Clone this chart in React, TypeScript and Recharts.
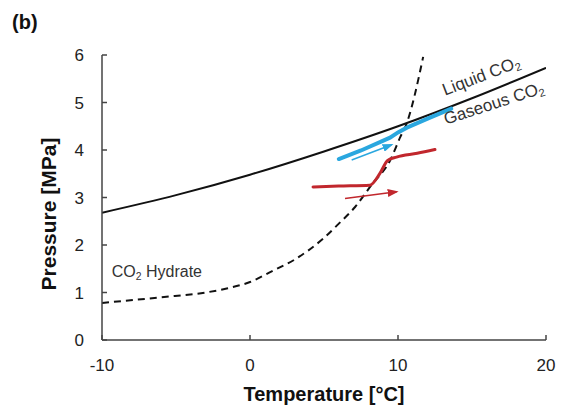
import React from 'react';
import { LineChart, Line, XAxis, YAxis, ReferenceDot } from 'recharts';

const X_TICKS = [-10, 0, 10, 20];
const Y_TICKS = [0, 1, 2, 3, 4, 5, 6];

// Liquid / gaseous CO2 boundary
const boundaryT = [-10, -5, 0, 5, 10, 15, 20];
const boundaryP = [2.68, 3.05, 3.48, 3.97, 4.5, 5.09, 5.73];

// CO2 hydrate equilibrium (dashed)
const hydrateT = [-10, -6, -3, -1.5, 0, 1.5, 3, 5, 6, 7.1, 8.2, 9.5, 10.15, 10.55, 11.7];
const hydrateP = [0.78, 0.9, 1.0, 1.09, 1.22, 1.45, 1.69, 2.15, 2.45, 2.8, 3.26, 3.8, 4.27, 4.53, 5.96];

// Blue measured path
const blueT = [6.0, 7.5, 9.46, 10.0, 10.6, 12.0, 13.6];
const blueP = [3.81, 3.99, 4.26, 4.37, 4.47, 4.66, 4.87];

const blueArrowT = [6.87, 9.57];
const blueArrowP = [3.79, 4.11];

// Red measured path
const redT = [4.26, 6.0, 8.1, 8.8, 9.3, 9.9, 11.3, 12.5];
const redP = [3.22, 3.24, 3.26, 3.52, 3.78, 3.85, 3.93, 4.01];

const redArrowT = [6.42, 9.91];
const redArrowP = [2.98, 3.12];

const toPts = (xs: number[], ys: number[]) => xs.map((x, i) => ({ x, y: ys[i] }));

const boundary = toPts(boundaryT, boundaryP);
const hydrate = toPts(hydrateT, hydrateP);
const blue = toPts(blueT, blueP);
const blueArrow = toPts(blueArrowT, blueArrowP);
const red = toPts(redT, redP);
const redArrow = toPts(redArrowT, redArrowP);

const FONT = '"Liberation Sans", Arial, Helvetica, sans-serif';
const AXIS = '#444';
const BLUE = '#2aa7df';
const RED = '#c1272d';

const XTick = (props: any) => {
  const { x, y, payload } = props;
  return (
    <g>
      <line x1={x} y1={y} x2={x} y2={y - 5} stroke={AXIS} strokeWidth={1.5} />
      <text x={x} y={y + 31} textAnchor="middle" fontSize={17} fill="#222" fontFamily={FONT}>
        {payload.value}
      </text>
    </g>
  );
};

const YTick = (props: any) => {
  const { x, y, payload } = props;
  return (
    <g>
      <line x1={x} y1={y} x2={x + 5} y2={y} stroke={AXIS} strokeWidth={1.5} />
      <text x={x - 18} y={y + 6} textAnchor="end" fontSize={17} fill="#222" fontFamily={FONT}>
        {payload.value}
      </text>
    </g>
  );
};

const co2Text = (cx: number, cy: number, angle: number, before: string, after: string, size: number) => (
  <text
    x={cx}
    y={cy}
    fontSize={size}
    fill="#333"
    fontFamily={FONT}
    transform={`rotate(${angle} ${cx} ${cy})`}
  >
    {before}CO
    <tspan fontSize={size * 0.65} dy={3}>2</tspan>
    <tspan dy={-3}>{after}</tspan>
  </text>
);

export default function App() {
  return (
    <div
      style={{
        position: 'absolute',
        left: 0,
        top: 0,
        width: 565,
        height: 410,
        background: '#fff',
        fontFamily: FONT,
      }}
    >
      <svg width={0} height={0} style={{ position: 'absolute' }}>
        <defs>
          <marker id="arrRed" markerUnits="userSpaceOnUse" markerWidth={11} markerHeight={8} refX={9} refY={4} orient="auto">
            <path d="M0,0 L11,4 L0,8 z" fill={RED} />
          </marker>
          <marker id="arrBlue" markerUnits="userSpaceOnUse" markerWidth={11} markerHeight={8} refX={9} refY={4} orient="auto">
            <path d="M0,0 L11,4 L0,8 z" fill={BLUE} />
          </marker>
        </defs>
      </svg>
      <LineChart width={565} height={410} margin={{ top: 55, right: 19, bottom: 0, left: 0 }}>
        <XAxis
          type="number"
          dataKey="x"
          domain={[-10, 20]}
          ticks={X_TICKS}
          height={70}
          tick={XTick}
          tickLine={false}
          tickSize={0}
          tickMargin={0}
          axisLine={{ stroke: AXIS, strokeWidth: 1.5 }}
          allowDataOverflow
        />
        <YAxis
          type="number"
          dataKey="y"
          domain={[0, 6]}
          ticks={Y_TICKS}
          width={102}
          tick={YTick}
          tickLine={false}
          tickSize={0}
          tickMargin={0}
          axisLine={{ stroke: AXIS, strokeWidth: 1.5 }}
          allowDataOverflow
        />
        <Line data={boundary} dataKey="y" type="monotone" stroke="#111" strokeWidth={2} dot={false} activeDot={false} isAnimationActive={false} />
        <Line data={hydrate} dataKey="y" type="monotone" stroke="#111" strokeWidth={2} strokeDasharray="7 5" dot={false} activeDot={false} isAnimationActive={false} />
        <Line data={blue} dataKey="y" type="linear" stroke={BLUE} strokeWidth={4} strokeLinecap="round" dot={false} activeDot={false} isAnimationActive={false} />
        <Line data={red} dataKey="y" type="monotone" stroke={RED} strokeWidth={3} strokeLinecap="round" dot={false} activeDot={false} isAnimationActive={false} />
        <Line data={blueArrow} dataKey="y" type="linear" stroke={BLUE} strokeWidth={1.5} markerEnd="url(#arrBlue)" dot={false} activeDot={false} isAnimationActive={false} />
        <Line data={redArrow} dataKey="y" type="linear" stroke={RED} strokeWidth={1.5} markerEnd="url(#arrRed)" dot={false} activeDot={false} isAnimationActive={false} />
        <ReferenceDot x={13.18} y={5.14} r={0} shape={(p: any) => co2Text(p.cx, p.cy, -21, 'Liquid ', '', 17)} />
        <ReferenceDot x={13.24} y={4.53} r={0} shape={(p: any) => co2Text(p.cx, p.cy, -18, 'Gaseous ', '', 17)} />
        <ReferenceDot x={-9.34} y={1.33} r={0} shape={(p: any) => co2Text(p.cx, p.cy, 0, '', ' Hydrate', 16)} />
      </LineChart>
      <svg width={565} height={410} style={{ position: 'absolute', left: 0, top: 0, pointerEvents: 'none' }}>
        <text x={12} y={29} fontSize={20} fontWeight="bold" fill="#111" fontFamily={FONT}>(b)</text>
        <text
          x={56}
          y={214}
          fontSize={21}
          fontWeight="bold"
          fill="#111"
          fontFamily={FONT}
          textAnchor="middle"
          transform="rotate(-90 56 214)"
        >
          Pressure [MPa]
        </text>
        <text x={324} y={401} fontSize={20} fontWeight="bold" fill="#111" fontFamily={FONT} textAnchor="middle">
          Temperature [°C]
        </text>
      </svg>
    </div>
  );
}
